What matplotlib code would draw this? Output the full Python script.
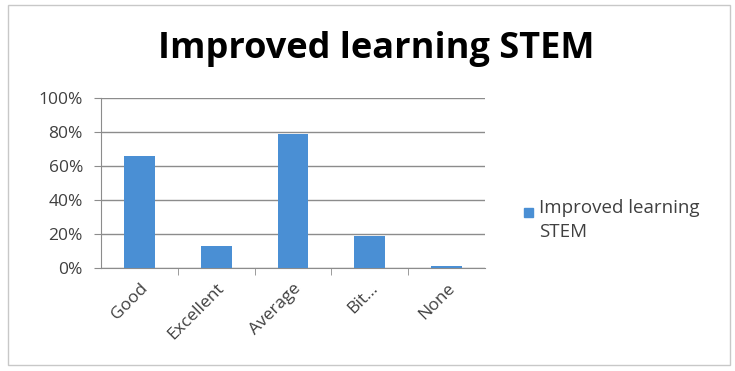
import numpy as np
import matplotlib.pyplot as plt
from matplotlib.patches import Rectangle
from matplotlib.ticker import PercentFormatter

categories = ["Good", "Excellent", "Average", "Bit...", "None"]
values = [66, 13, 79, 19, 1]
series_name = "Improved learning STEM"

plt.rcParams["font.family"] = ["Open Sans", "DejaVu Sans"]

bar_c = "#4a8fd4"
grid_c = "#8c8c8c"
txt_c = "#404040"

fig = plt.figure(figsize=(7.35, 3.71), dpi=100)
fig.patches.append(Rectangle((0.011, 0.016), 0.982, 0.97, transform=fig.transFigure,
                             fill=False, ec="#c8c8c8", lw=1.0))

ax = fig.add_axes([101 / 735, 1 - 268 / 371, 384 / 735, 170 / 371])
x = np.arange(len(categories))
ax.bar(x, values, width=0.4, color=bar_c, label=series_name, zorder=3)

ax.set_xlim(-0.5, len(categories) - 0.5)
ax.set_ylim(0, 100)
ax.set_yticks(np.arange(0, 101, 20))
ax.yaxis.set_major_formatter(PercentFormatter(decimals=0))
ax.grid(axis="y", color=grid_c, lw=1.0, zorder=0)
ax.set_axisbelow(True)

ax.set_xticks(x)
ax.set_xticklabels(categories, rotation=45, ha="right", rotation_mode="anchor",
                   fontsize=12.5, color=txt_c)
ax.set_xticks(np.arange(0.5, len(categories) - 0.5), minor=True)
ax.tick_params(axis="x", which="major", length=0, pad=9)
ax.tick_params(axis="x", which="minor", length=5, color=grid_c)
ax.tick_params(axis="y", length=5, pad=8, color=grid_c, labelsize=12.5, labelcolor=txt_c)

for side in ["top", "right"]:
    ax.spines[side].set_visible(False)
ax.spines["left"].set_color(grid_c)
ax.spines["bottom"].set_color(grid_c)

fig.text(376 / 735, 1 - 49 / 371, series_name, ha="center", va="center",
         fontsize=26, fontweight="bold", color="black")

# legend: small square with the label wrapped onto two lines
fig.patches.append(Rectangle((524 / 735, 1 - 217 / 371), 9 / 735, 9 / 371,
                             transform=fig.transFigure, color=bar_c))
fig.text(539 / 735, 1 - 199 / 371, "Improved learning\nSTEM", ha="left", va="top",
         fontsize=13.5, color=txt_c, linespacing=1.45)

fig.savefig("out.png", dpi=100)
